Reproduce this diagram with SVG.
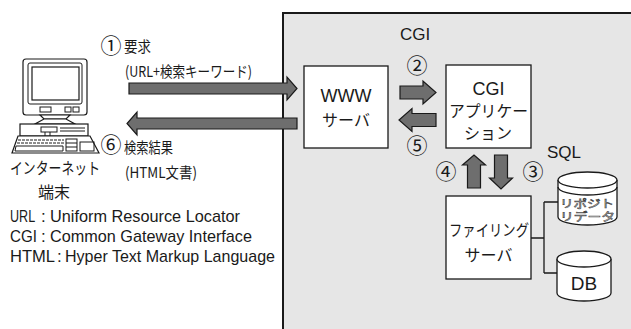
<svg xmlns="http://www.w3.org/2000/svg" width="631" height="329" viewBox="0 0 631 329">
  <style>
    .jp { font-family: "Noto Sans CJK JP", "Noto Sans", sans-serif; fill: #1a1a1a; }
    .en { font-family: "Liberation Sans", "Noto Sans CJK JP", sans-serif; fill: #1a1a1a; }
    .num { font-family: "Noto Sans CJK JP", "DejaVu Sans", sans-serif; fill: #1a1a1a; font-size: 21px; text-anchor: middle; }
    .box { fill: #ffffff; stroke: #1a1a1a; stroke-width: 1.3; }
    .arrow { fill: #6e6e6e; stroke: #1a1a1a; stroke-width: 1.2; stroke-linejoin: miter; }
    .line { fill: none; stroke: #1a1a1a; stroke-width: 1.3; }
    .pc { fill: #ffffff; stroke: #1a1a1a; stroke-width: 1.2; }
    .pcl { fill: none; stroke: #1a1a1a; stroke-width: 1; }
    .cyl { fill: #ffffff; stroke: #1a1a1a; stroke-width: 1.3; }
    .outline { font-family: "Noto Sans CJK JP", sans-serif; fill: #ffffff; stroke: #444444; stroke-width: 0.6; }
  </style>

  <!-- white page -->
  <rect x="0" y="0" width="631" height="329" fill="#ffffff"/>

  <!-- server-side area -->
  <g id="server-area">
    <rect x="283" y="13" width="360" height="330" fill="#e6e6e6" stroke="#1a1a1a" stroke-width="2"/>
    <text class="en" x="415" y="40" font-size="17" text-anchor="middle">CGI</text>
    <text class="en" x="547" y="158" font-size="17">SQL</text>
  </g>

  <!-- client terminal -->
  <g id="terminal">
    <!-- monitor -->
    <rect class="pc" x="23" y="59" width="64" height="56" rx="3"/>
    <rect class="pcl" x="28" y="63" width="54" height="41" rx="2"/>
    <rect class="pc" x="32" y="67" width="47" height="33"/>
    <rect class="pcl" x="40" y="107" width="11" height="5"/>
    <rect class="pcl" x="65" y="107" width="6" height="5"/>
    <rect class="pcl" x="73" y="107" width="6" height="5"/>
    <!-- stand -->
    <path class="pc" d="M40 115 L70 115 L66 119 L44 119 Z"/>
    <path class="pc" d="M44 119 L66 119 L75 124 L35 124 Z"/>
    <!-- system unit -->
    <rect class="pc" x="20" y="124" width="68" height="12"/>
    <rect class="pcl" x="41" y="127" width="16" height="5"/>
    <line class="pcl" x1="60" y1="128" x2="85" y2="128"/>
    <line class="pcl" x1="60" y1="131" x2="85" y2="131"/>
    <line class="pcl" x1="45" y1="132" x2="45" y2="136"/>
    <line class="pcl" x1="50" y1="132" x2="50" y2="136"/>
    <!-- keyboard -->
    <path class="pc" d="M18 136 L90 136 L99 153 L12 153 Z"/>
    <line class="pcl" x1="18" y1="140" x2="64" y2="140" stroke-dasharray="3 1"/>
    <line class="pcl" x1="17" y1="143" x2="64" y2="143" stroke-dasharray="3 1"/>
    <path class="pcl" d="M16 146 L63 146 L63 151 L15 151 Z"/>
    <rect class="pcl" x="66" y="139" width="11" height="12"/>
    <line class="pcl" x1="66" y1="143" x2="77" y2="143"/>
    <line class="pcl" x1="66" y1="147" x2="77" y2="147"/>
    <rect class="pcl" x="80" y="142" width="14" height="9"/>
    <text class="jp" x="10" y="174" font-size="16" textLength="90" lengthAdjust="spacingAndGlyphs">インターネット</text>
    <text class="jp" x="54" y="198" font-size="16" text-anchor="middle">端末</text>
  </g>

  <!-- WWW server -->
  <g id="www-server">
    <rect class="box" x="304" y="66" width="84" height="82"/>
    <text class="en" x="346" y="102" font-size="18" text-anchor="middle">WWW</text>
    <text class="jp" x="346" y="126" font-size="16" text-anchor="middle">サーバ</text>
  </g>

  <!-- CGI application -->
  <g id="cgi-app">
    <rect class="box" x="446" y="65" width="85" height="83"/>
    <text class="en" x="488.5" y="95" font-size="18" text-anchor="middle">CGI</text>
    <text class="jp" x="449" y="117" font-size="16" textLength="79" lengthAdjust="spacingAndGlyphs">アプリケー</text>
    <text class="jp" x="488" y="139" font-size="16" text-anchor="middle">ション</text>
  </g>

  <!-- filing server -->
  <g id="filing-server">
    <rect class="box" x="446" y="196" width="85" height="83"/>
    <text class="jp" x="449" y="236" font-size="16" textLength="80" lengthAdjust="spacingAndGlyphs">ファイリング</text>
    <text class="jp" x="488.5" y="261" font-size="16" text-anchor="middle">サーバ</text>
  </g>

  <!-- repository data store -->
  <g id="repository">
    <path class="cyl" d="M558 180 L558 217 A29.5 8 0 0 0 617 217 L617 180"/>
    <ellipse class="cyl" cx="587.5" cy="180" rx="29.5" ry="8"/>
    <path class="line" d="M558 187 A29.5 8 0 0 0 617 187"/>
    <text class="outline" font-size="11"><tspan x="560" y="208" textLength="54" lengthAdjust="spacingAndGlyphs">リポジト</tspan><tspan x="560" y="221" textLength="55" lengthAdjust="spacingAndGlyphs">リデータ</tspan></text>
  </g>

  <!-- database -->
  <g id="db">
    <path class="cyl" d="M557 259 L557 293 A27 8 0 0 0 611 293 L611 259"/>
    <ellipse class="cyl" cx="584" cy="259" rx="27" ry="8"/>
    <text class="en" x="584" y="290" font-size="19" text-anchor="middle">DB</text>
  </g>

  <!-- connectors -->
  <g id="connectors">
    <!-- request / response between terminal and WWW server -->
    <path class="arrow" d="M129 83 L287 83 L287 77 L297 88.5 L287 100 L287 94 L129 94 Z"/>
    <path class="arrow" d="M297 118 L137 118 L137 112 L127 123.5 L137 135 L137 129 L297 129 Z"/>
    <!-- WWW server <-> CGI application -->
    <path class="arrow" d="M400 86 L423 86 L423 81 L436 92.5 L423 104 L423 99 L400 99 Z"/>
    <path class="arrow" d="M436 113.5 L412 113.5 L412 108.5 L399 120 L412 131.5 L412 126.5 L436 126.5 Z"/>
    <!-- CGI application <-> filing server -->
    <path class="arrow" d="M467.5 188 L467.5 165 L462.5 165 L474 155 L485.5 165 L480.5 165 L480.5 188 Z"/>
    <path class="arrow" d="M494.5 155 L507.5 155 L507.5 178 L512.5 178 L501 189 L489.5 178 L494.5 178 Z"/>
    <!-- filing server to stores -->
    <path class="line" d="M531 238 L544 238 M544 202 L544 273 M544 202 L558 202 M544 273 L557 273"/>
  </g>

  <!-- step labels -->
  <g id="labels">
    <text class="num" x="111" y="53">①</text>
    <text class="jp" x="124" y="52" font-size="15" textLength="27" lengthAdjust="spacingAndGlyphs">要求</text>
    <text class="jp" x="125" y="77" font-size="15" textLength="127" lengthAdjust="spacingAndGlyphs">(URL+検索キーワード)</text>
    <text class="num" x="111" y="152">⑥</text>
    <text class="jp" x="124" y="153" font-size="15" textLength="49" lengthAdjust="spacingAndGlyphs">検索結果</text>
    <text class="jp" x="125" y="178" font-size="15" textLength="72" lengthAdjust="spacingAndGlyphs">(HTML文書)</text>
    <text class="num" x="417" y="73">②</text>
    <text class="num" x="417" y="153">⑤</text>
    <text class="num" x="446" y="179">④</text>
    <text class="num" x="533" y="179">③</text>
  </g>

  <!-- abbreviations -->
  <g id="legend">
    <text class="en" font-size="17" transform="translate(10 222) scale(0.74 1)">URL</text>
    <text class="en" x="41" y="222" font-size="17">:</text>
    <text class="en" x="50" y="222" font-size="17" textLength="190" lengthAdjust="spacingAndGlyphs">Uniform Resource Locator</text>
    <text class="en" x="10" y="242" font-size="17" textLength="27" lengthAdjust="spacingAndGlyphs">CGI</text>
    <text class="en" x="41" y="242" font-size="17">:</text>
    <text class="en" x="50" y="242" font-size="17" textLength="202" lengthAdjust="spacingAndGlyphs">Common Gateway Interface</text>
    <text class="en" x="10" y="262" font-size="17" textLength="45" lengthAdjust="spacingAndGlyphs">HTML</text>
    <text class="en" x="57" y="262" font-size="17">:</text>
    <text class="en" x="65" y="262" font-size="17" textLength="210" lengthAdjust="spacingAndGlyphs">Hyper Text Markup Language</text>
  </g>
</svg>
